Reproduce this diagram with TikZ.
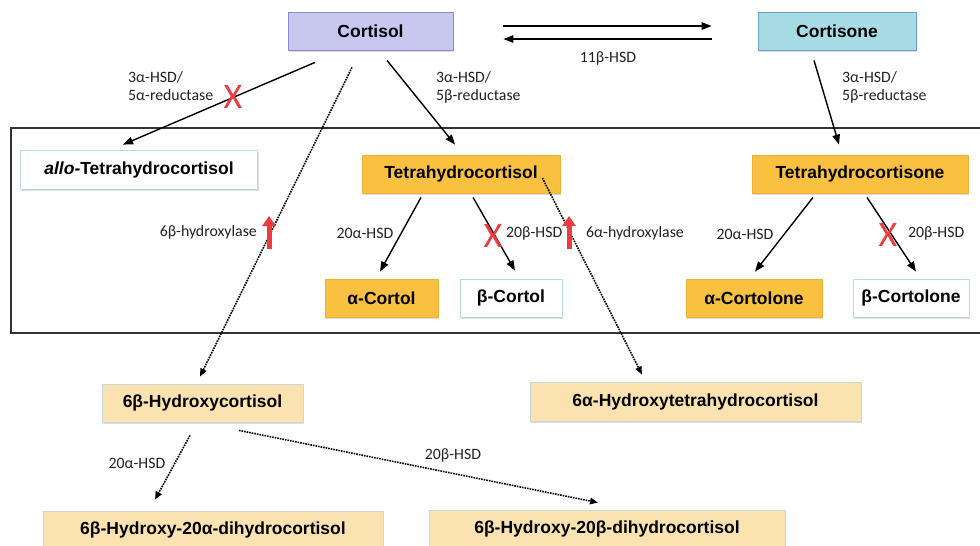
\documentclass[tikz,border=0pt]{standalone}
\usepackage{fontspec}
\setmainfont{Liberation Sans}
\newfontfamily\labfont{Carlito}
\usetikzlibrary{arrows.meta,calc,shadows}
\definecolor{lav}{HTML}{C7C7F0}
\definecolor{lavb}{HTML}{8A8ACF}
\definecolor{cyanf}{HTML}{A8DCE4}
\definecolor{cyanb}{HTML}{6F9ED0}
\definecolor{orf}{HTML}{F9C13F}
\definecolor{orb}{HTML}{E9B43A}
\definecolor{tanf}{HTML}{FBE3B1}
\definecolor{tanb}{HTML}{C9D9D9}
\definecolor{whb}{HTML}{B4DCE6}
\definecolor{xred}{HTML}{EE3B3F}
\definecolor{frame}{HTML}{333333}
\definecolor{labc}{HTML}{222222}
\begin{document}
\begin{tikzpicture}[x=1pt,y=-1pt,
  box/.style={draw, line width=0.8pt, minimum height=38pt, inner sep=0pt,
    font=\bfseries\fontsize{17.5}{20}\selectfont,
    drop shadow={shadow xshift=1pt,shadow yshift=-2pt,fill=gray!60,opacity=0.45}},
  lavbox/.style={box, fill=lav, draw=lavb},
  cyanbox/.style={box, fill=cyanf, draw=cyanb},
  orbox/.style={box, fill=orf, draw=orb},
  tanbox/.style={box, fill=tanf, draw=tanb},
  whbox/.style={box, fill=white, draw=whb},
  lab/.style={font=\labfont\fontsize{15.8}{18}\selectfont, text=labc, inner sep=0pt},
  arr/.style={line width=1.4pt, -{Triangle[length=10pt,width=7.5pt]}},
  dotarr/.style={line width=1.6pt, densely dotted, -{Triangle[length=8pt,width=6.5pt]}},
  redx/.style={text=xred, font=\labfont\fontsize{36}{36}\selectfont, inner sep=0pt},
  redarr/.style={draw=xred, line width=5pt, -{Triangle[length=10pt,width=13pt]}}
]
\useasboundingbox (0,0) rectangle (980,546);
\fill[white] (0,0) rectangle (980,546);

% frame
\draw[frame, line width=1.5pt] (11,128) rectangle (990,333);

% nodes
\node[lavbox, minimum width=165pt] (cortisol) at (370.5,31) {Cortisol};
\node[cyanbox, minimum width=158pt] (cortisone) at (837,31) {Cortisone};
\node[whbox, minimum width=237pt, minimum height=39pt] (allo) at (139,169.5) {\textit{allo}-Tetrahydrocortisol};
\node[orbox, minimum width=198pt] (thf) at (461,174) {Tetrahydrocortisol};
\node[orbox, minimum width=216pt] (the) at (860,174) {Tetrahydrocortisone};
\node[orbox, minimum width=113pt] (acortol) at (381.5,298) {α-Cortol};
\node[whbox, minimum width=102pt] (bcortol) at (511,298) {β-Cortol};
\node[orbox, minimum width=136pt] (acortolone) at (754,298) {α-Cortolone};
\node[whbox, minimum width=116pt] (bcortolone) at (911,298) {β-Cortolone};
\node[tanbox, minimum width=201pt] (ohc) at (202.5,403) {6β-Hydroxycortisol};
\node[tanbox, minimum width=331pt, minimum height=39pt] (oathf) at (695.5,401.5) {6α-Hydroxytetrahydrocortisol};
\node[tanbox, minimum width=340pt] (dha) at (213,530) {6β-Hydroxy-20α-dihydrocortisol};
\node[tanbox, minimum width=356pt] (dhb) at (607,529) {6β-Hydroxy-20β-dihydrocortisol};

% cortisol <-> cortisone
\draw[arr] ($(cortisol.east)+(50,-5)$) -- ($(cortisone.west)+(-46,-5)$);
\draw[arr] ($(cortisone.west)+(-46,8)$) -- ($(cortisol.east)+(50,8)$);
\node[lab] (l11) at (608,58) {11β-HSD};

% solid arrows
\draw[arr] ($(cortisol.south)+(-55.5,12)$) -- ($(allo.north)+(-16,-5)$);
\draw[arr] ($(cortisol.south)+(16.5,10)$) -- ($(thf.north)+(-6,-10)$);
\draw[arr] ($(cortisone.south)+(-23,10)$) -- ($(the.north)+(-21,-10)$);
\draw[arr] ($(thf.south)+(-40,4)$) -- ($(acortol.north)+(-1.5,-7)$);
\draw[arr] ($(thf.south)+(12,4)$) -- ($(bcortol.north)+(4,-8)$);
\draw[arr] ($(the.south)+(-47,4)$) -- ($(acortolone.north)+(1,-7)$);
\draw[arr] ($(the.south)+(7,4)$) -- ($(bcortolone.north)+(5,-7)$);

% dotted arrows
\draw[dotarr] ($(cortisol.south)+(-18.5,17)$) -- ($(ohc.north)+(-2.5,-7)$);
\draw[dotarr] ($(thf.east)+(-18,4)$) -- ($(oathf.north)+(-53.5,-7)$);
\draw[dotarr] ($(ohc.south)+(-12.5,13)$) -- ($(dha.north)+(-58,-11)$);
\draw[dotarr] ($(ohc.south)+(36.5,8)$) -- ($(dhb.north)+(-9,-7)$);

% labels
\node[lab, anchor=north west, align=left] (l1) at (128,71) {3α-HSD/\\5α-reductase};
\node[lab, anchor=north west, align=left] (l2) at (436,71) {3α-HSD/\\5β-reductase};
\node[lab, anchor=north west, align=left] (l3) at (842,71) {3α-HSD/\\5β-reductase};
\node[lab, anchor=east] (l4) at (257,232) {6β-hydroxylase};
\node[lab, anchor=west] (l5) at (586,233) {6α-hydroxylase};
\node[lab] (l6) at (365,233) {20α-HSD};
\node[lab, anchor=west] (l7) at (506,233) {20β-HSD};
\node[lab] (l8) at (745,234) {20α-HSD};
\node[lab, anchor=west] (l9) at (908,233) {20β-HSD};
\node[lab] (l10) at (137,463) {20α-HSD};
\node[lab] (l12) at (453,455) {20β-HSD};

% red marks
\node[redx] (x1) at (233,97) {X};
\node[redx] (x2) at (493,236) {X};
\node[redx] (x3) at (888,235) {X};
\coordinate (r1a) at (269,249); \coordinate (r1b) at (269,216);
\coordinate (r2a) at (569,249); \coordinate (r2b) at (569,216);
\draw[redarr] (r1a) -- (r1b);
\draw[redarr] (r2a) -- (r2b);
\end{tikzpicture}
\end{document}
